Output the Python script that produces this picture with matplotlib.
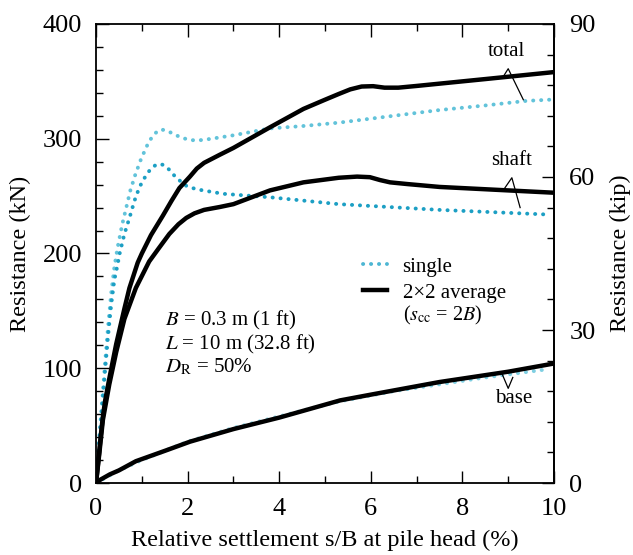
import matplotlib
matplotlib.use("Agg")
import matplotlib.pyplot as plt
from matplotlib.ticker import MultipleLocator, FixedLocator
from matplotlib.lines import Line2D

plt.rcParams["font.family"] = ["Liberation Serif", "DejaVu Serif"]
plt.rcParams["mathtext.fontset"] = "stix"

# single pile (dotted)
x_single_total = [0, 0.05, 0.1, 0.15, 0.2, 0.26, 0.33, 0.4, 0.47, 0.57, 0.66, 0.75, 0.86, 0.98,
                  1.08, 1.16, 1.24, 1.3, 1.36, 1.42, 1.5, 1.6, 1.75, 1.9, 2.05, 2.18, 2.35, 2.6,
                  3.0, 3.8, 4.5, 5.3, 6.5, 7.5, 8.5, 9.4, 9.9]
y_single_total = [0, 30, 55, 80, 106, 135, 165, 188, 205, 225, 240, 255, 269, 282,
                  291, 298, 302, 305, 307, 308, 307.5, 306, 303, 300.5, 299, 298.5, 299, 300.5,
                  303, 309, 311, 314, 320, 325, 329, 333, 334]
x_single_shaft = [0, 0.05, 0.1, 0.15, 0.2, 0.26, 0.33, 0.4, 0.47, 0.51, 0.62, 0.73, 0.84, 0.95,
                  1.09, 1.2, 1.3, 1.4, 1.48, 1.6, 1.75, 1.97, 2.15, 2.33, 2.78, 3.8, 5.3, 7.5, 9.84]
y_single_shaft = [0, 25, 50, 74, 99, 127, 155, 177, 190, 199, 217, 231, 246, 258,
                  268, 274, 277, 278, 277, 273, 266, 259, 256.5, 255, 252, 249, 243, 238, 234]
x_single_base = [0, 0.5, 1, 2, 3, 4, 5.3, 6.5, 7.5, 8.5, 9.84]
y_single_base = [0, 11, 20, 36, 48, 58, 71, 80, 86, 92, 99]

# 2x2 group average (solid)
x_group_total = [0, 0.07, 0.1, 0.15, 0.2, 0.29, 0.44, 0.62, 0.73, 0.91, 1.0, 1.2, 1.46, 1.65,
                 1.82, 2.05, 2.2, 2.36, 2.7, 3.0, 3.4, 3.8, 4.53, 5.0, 5.3, 5.55, 5.8, 6.05,
                 6.3, 6.6, 7.0, 7.5, 8.5, 9.98]
y_group_total = [0, 27, 40, 58, 72, 91, 121, 152, 170, 192, 200, 216, 233, 246,
                 257, 267, 274, 279, 286, 292, 301, 310, 326, 334, 339, 343, 345.5, 345.8,
                 344.5, 344.5, 346, 348, 352, 358]
x_group_shaft = [0, 0.07, 0.15, 0.29, 0.44, 0.62, 0.87, 1.16, 1.36, 1.6, 1.8, 1.97, 2.15,
                 2.36, 2.7, 3.0, 3.4, 3.8, 4.53, 5.3, 5.7, 5.98, 6.2, 6.42, 6.8, 7.5, 9.98]
y_group_shaft = [0, 25, 55, 86, 114, 143, 170, 193, 204, 217, 225.5, 231, 235,
                 238, 240.5, 243, 249, 255, 262, 266, 267, 266.5, 264, 262, 260.5, 258, 253]
x_group_base = [0, 0.1, 0.3, 0.5, 0.87, 1.5, 2.05, 3.0, 3.5, 4.0, 5.33, 6.0, 7.5, 9.0, 9.98]
y_group_base = [0, 3, 7.5, 11, 19, 28, 36, 47, 52, 57, 72, 77, 88, 97, 104]

kip_major = [0, 30, 60, 90]
kip_minor = [6, 12, 18, 24, 36, 42, 48, 54, 66, 72, 78, 84]

KN_TO_KIP = 0.225

c_light = "#62c3da"
c_dark = "#1c9fc4"
dots = (0, (0.05, 2.0))

fig = plt.figure(figsize=(6.33, 5.55), dpi=100)
ax = fig.add_axes([0.1517, 0.1297, 0.7235, 0.8271])

ax.plot(x_single_total, y_single_total, color=c_light, lw=2.8, ls=dots, dash_capstyle="round")
ax.plot(x_single_shaft, y_single_shaft, color=c_dark, lw=2.8, ls=dots, dash_capstyle="round")
ax.plot(x_single_base, y_single_base, color="#7fcfe2", lw=2.8, ls=dots, dash_capstyle="round")
for xs, ys in [(x_group_total, y_group_total), (x_group_shaft, y_group_shaft),
               (x_group_base, y_group_base)]:
    ax.plot(xs, ys, color="black", lw=3.2, solid_capstyle="round", solid_joinstyle="round")

ax.set_xlim(0, 10)
ax.set_ylim(0, 400)
ax.xaxis.set_major_locator(MultipleLocator(2))
ax.xaxis.set_minor_locator(MultipleLocator(1))
ax.yaxis.set_major_locator(MultipleLocator(100))
ax.yaxis.set_minor_locator(MultipleLocator(20))
ax.tick_params(which="both", direction="in", top=True, right=False, width=1.0, labelsize=19)
ax.tick_params(which="major", length=9)
ax.tick_params(axis="x", which="major", pad=11)
ax.tick_params(axis="y", which="major", pad=10)
ax.tick_params(which="minor", length=5)
for s in ax.spines.values():
    s.set_linewidth(1.3)

ax2 = ax.secondary_yaxis("right", functions=(lambda v: v * KN_TO_KIP, lambda v: v / KN_TO_KIP))
ax2.yaxis.set_major_locator(FixedLocator(kip_major))
ax2.yaxis.set_minor_locator(FixedLocator(kip_minor))
ax2.tick_params(which="both", direction="in", width=1.0, labelsize=19)
ax2.tick_params(which="major", length=9, pad=11)
ax2.tick_params(which="minor", length=5)
ax2.spines["right"].set_linewidth(1.3)
ax2.set_ylabel("Resistance (kip)", fontsize=17.5, labelpad=10)

ax.set_xlabel("Relative settlement s/B at pile head (%)", fontsize=17.5, labelpad=7)
ax.set_ylabel("Resistance (kN)", fontsize=17.5, labelpad=8)

# legend
handles = [Line2D([], [], color="#4db6d3", lw=2.8, ls=dots, dash_capstyle="round"),
           Line2D([], [], color="black", lw=3.2)]
ax.legend(handles, ["single", "2\u00d72 average"], loc="upper left",
          bbox_to_anchor=(0.583, 0.492), frameon=False, fontsize=15,
          handlelength=1.15, handletextpad=0.75, labelspacing=0.3,
          borderpad=0, borderaxespad=0)
ax.text(6.7, 146, r"($s_{\rm cc}$ = 2$B$)", fontsize=14.5, va="center", ha="left")

# pile parameters
ax.text(1.5, 142, r"$B$ = 0.3 m (1 ft)", fontsize=15, va="center")
ax.text(1.5, 121, r"$L$ = 10 m (32.8 ft)", fontsize=15, va="center")
ax.text(1.5, 101, r"$D_{\rm R}$ = 50%", fontsize=15, va="center")

# curve labels with wedges
ax.text(8.97, 376, "total", fontsize=15, ha="center", va="center")
ax.plot([8.89, 9.0, 9.33], [354, 361, 334], color="black", lw=0.9)
ax.text(9.08, 281, "shaft", fontsize=15, ha="center", va="center")
ax.plot([8.89, 9.08, 9.26], [255, 266, 240], color="black", lw=0.9)
ax.text(9.11, 74, "base", fontsize=15, ha="center", va="center")
ax.plot([8.86, 9.0, 9.1], [95.7, 82.5, 92], color="black", lw=0.9)

fig.savefig("out.png", dpi=100)
